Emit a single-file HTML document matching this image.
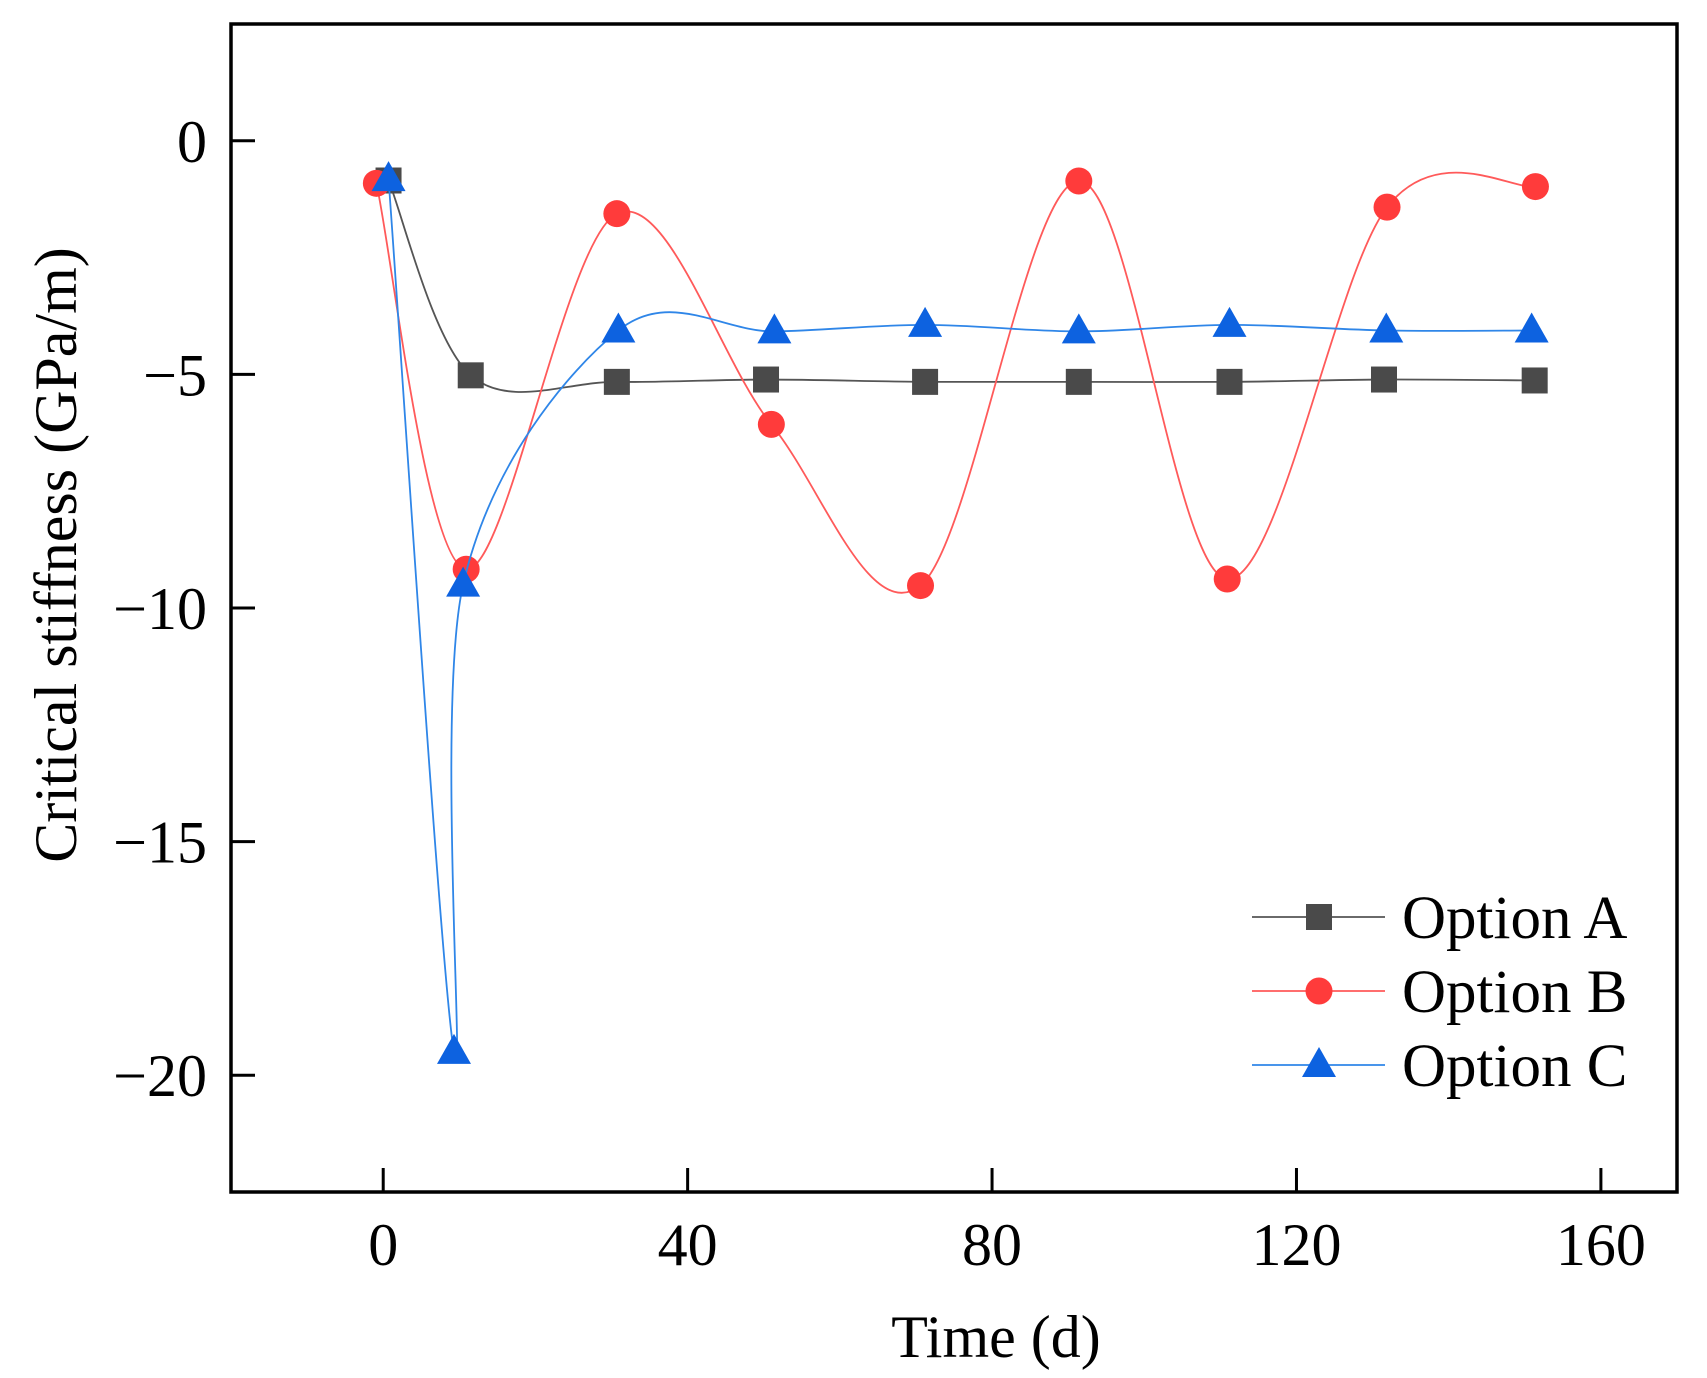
<!DOCTYPE html>
<html><head><meta charset="utf-8"><style>
html,body{margin:0;padding:0;background:#fff}
svg{display:block;font-family:"Liberation Serif",serif}
</style></head><body>
<svg id="chart" width="1707" height="1378" viewBox="0 0 1707 1378">
<rect x="0" y="0" width="1707" height="1378" fill="#fff"/>
<g id="plot"></g>
<g id="axes"></g>
<g id="legend"></g>
<text x="996" y="1357" font-size="60" text-anchor="middle">Time (d)</text>
<text transform="translate(76,555) rotate(-90)" font-size="60" text-anchor="middle">Critical stiffness (GPa/m)</text>
</svg>
<script>
const xTicks=[0,40,80,120,160];
const yTicks=[0,-5,-10,-15,-20];
const aX=[0.7,11.5,30.7,50.3,71.2,91.4,111.2,131.5,151.3];
const aY=[-0.85,-5.02,-5.16,-5.11,-5.16,-5.16,-5.16,-5.11,-5.13];
const bX=[-0.9,10.9,30.7,51.0,70.6,91.4,110.9,131.9,151.4];
const bY=[-0.91,-9.17,-1.56,-6.07,-9.52,-0.86,-9.38,-1.42,-0.98];
const cX=[0.7,9.3,10.5,30.9,51.4,71.2,91.4,111.2,131.8,150.9];
const cY=[-0.82,-19.5,-9.5,-4.06,-4.08,-3.94,-4.08,-3.94,-4.06,-4.06];
const seriesNames=["Option A","Option B","Option C"];

const NS="http://www.w3.org/2000/svg";
const L=231,R=1677,T=24,B=1192;
const xMin=-20,xMax=170,yMin=-22.5,yMax=2.5;
const sx=v=>L+(v-xMin)/(xMax-xMin)*(R-L);
const sy=v=>T+(yMax-v)/(yMax-yMin)*(B-T);
function mk(tag,attrs,parent){const e=document.createElementNS(NS,tag);for(const k in attrs)e.setAttribute(k,attrs[k]);parent.appendChild(e);return e;}
const axes=document.getElementById('axes'),plot=document.getElementById('plot'),leg=document.getElementById('legend');

const frame=mk('rect',{x:L,y:T,width:R-L,height:B-T,fill:'none',stroke:'#000','stroke-width':3.5},axes);


xTicks.forEach(t=>{
  const ln=mk('line',{x1:sx(t),x2:sx(t),y1:B,y2:B-24,stroke:'#000','stroke-width':3},axes);
  
  
  const tx=mk('text',{x:sx(t),y:1265,'font-size':60,'text-anchor':'middle'},axes);
  tx.textContent=t;
  
  
});
yTicks.forEach(t=>{
  const ln=mk('line',{x1:L,x2:L+24,y1:sy(t),y2:sy(t),stroke:'#000','stroke-width':3},axes);
  
  
  const tx=mk('text',{x:207,y:sy(t)+21,'font-size':60,'text-anchor':'end'},axes);
  tx.textContent=t===0?'0':'\u2212'+Math.abs(t);
  
  
});

function spline(xs,ys){
  const p=xs.map((x,i)=>[sx(x),sy(ys[i])]);
  let d='M'+p[0][0]+','+p[0][1];
  for(let i=0;i<p.length-1;i++){
    const p0=p[i-1]||p[i],p1=p[i],p2=p[i+1],p3=p[i+2]||p2;
    const c1=[p1[0]+(p2[0]-p0[0])/6,p1[1]+(p2[1]-p0[1])/6];
    const c2=[p2[0]-(p3[0]-p1[0])/6,p2[1]-(p3[1]-p1[1])/6];
    d+=' C'+c1[0]+','+c1[1]+' '+c2[0]+','+c2[1]+' '+p2[0]+','+p2[1];
  }
  return d;
}
function marker(type,x,y,color,parent){
  let e;
  if(type==='sq')e=mk('rect',{x:x-13,y:y-13,width:26,height:26,fill:color},parent);
  else if(type==='ci')e=mk('circle',{cx:x,cy:y,r:13.5,fill:color},parent);
  else e=mk('polygon',{points:`${x},${y-18} ${x-17},${y+12} ${x+17},${y+12}`,fill:color},parent);
  return e;
}
const series=[
  {xs:aX,ys:aY,line:'#555',mark:'#4a4a4a',type:'sq',name:'option-a'},
  {xs:bX,ys:bY,line:'#ff5a5a',mark:'#ff3b3b',type:'ci',name:'option-b'},
  {xs:cX,ys:cY,line:'#2f86e8',mark:'#0d62e0',type:'tr',name:'option-c'}
];
series.forEach(s=>{
  const g=mk('g',{},plot);
  
  
  const path=mk('path',{d:spline(s.xs,s.ys),fill:'none',stroke:s.line,'stroke-width':1.8},g);
  
  
  s.xs.forEach((x,i)=>{
    const m=marker(s.type,sx(x),sy(s.ys[i]),s.mark,g);
    
    
  });
});
series.forEach((s,i)=>{
  const y=917+i*74;
  const g=mk('g',{},leg);
  
  
  mk('line',{x1:1252,x2:1385,y1:y,y2:y,stroke:s.line,'stroke-width':1.8},g);
  marker(s.type,1319,y,s.mark,g);
  const t=mk('text',{x:1402,y:y+21,'font-size':61},g);
  t.textContent=seriesNames[i];
});
</script>
</body></html>
